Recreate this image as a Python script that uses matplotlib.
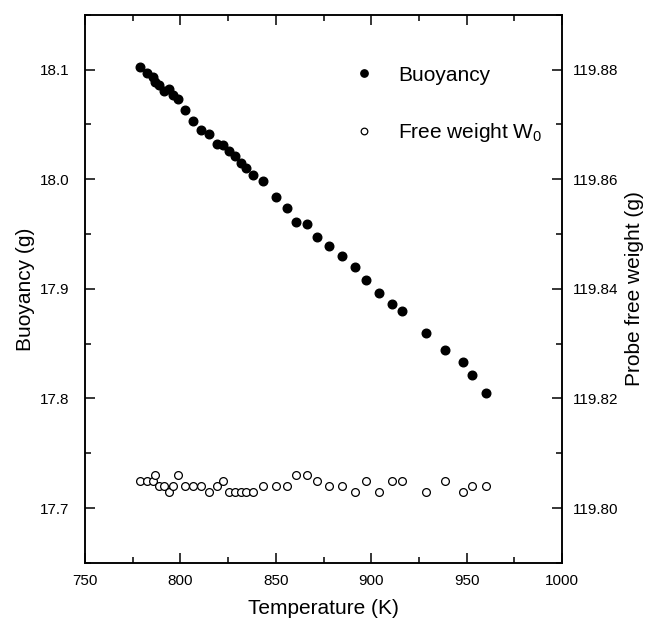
import numpy as np
import matplotlib
matplotlib.use('Agg')
import matplotlib.pyplot as plt
from matplotlib.ticker import MultipleLocator

plt.rcParams['font.family'] = ['Liberation Sans', 'DejaVu Sans']
plt.rcParams['mathtext.fontset'] = 'custom'
plt.rcParams['mathtext.rm'] = 'Liberation Sans'

# temperature of each measurement (K)
temperature = [778.6, 782.3, 785.6, 786.7, 788.9, 791.2, 793.8, 796.1, 798.6, 802.6,
               806.8, 810.8, 815.0, 819.0, 822.2, 825.5, 828.5, 831.6, 834.5, 837.9,
               843.4, 850.1, 856.0, 860.4, 866.6, 871.6, 877.9, 884.9, 891.4, 897.4,
               904.3, 910.7, 916.3, 928.5, 938.5, 948.0, 952.7, 960.2]

# buoyancy (g), left axis
buoyancy = [18.102, 18.097, 18.093, 18.089, 18.086, 18.080, 18.082, 18.077, 18.073, 18.063,
            18.053, 18.045, 18.041, 18.032, 18.031, 18.026, 18.021, 18.015, 18.010, 18.004,
            17.998, 17.984, 17.974, 17.961, 17.959, 17.947, 17.939, 17.930, 17.920, 17.908,
            17.896, 17.886, 17.880, 17.860, 17.844, 17.833, 17.821, 17.805]

# probe free weight W0 (g), right axis
free_weight = [119.805, 119.805, 119.805, 119.806, 119.804, 119.804, 119.803, 119.804, 119.806, 119.804,
               119.804, 119.804, 119.803, 119.804, 119.805, 119.803, 119.803, 119.803, 119.803, 119.803,
               119.804, 119.804, 119.804, 119.806, 119.806, 119.805, 119.804, 119.804, 119.803, 119.805,
               119.803, 119.805, 119.805, 119.803, 119.805, 119.803, 119.804, 119.804]

fig = plt.figure(figsize=(6.52, 6.22), dpi=100)
ax = fig.add_axes([0.1304, 0.0949, 0.7316, 0.8815])
ax2 = ax.twinx()

l1, = ax.plot(temperature, buoyancy, 'o', color='black', markersize=6.2, label='Buoyancy')
l2, = ax2.plot(temperature, free_weight, 'o', markerfacecolor='white', markeredgecolor='black',
               markeredgewidth=0.9, markersize=5.6, label=r'Free weight W$_\mathregular{0}$')

ax.set_xlim(750, 1000)
ax.set_ylim(17.65, 18.15)
ax2.set_ylim(119.79, 119.89)

ax.xaxis.set_major_locator(MultipleLocator(50))
ax.xaxis.set_minor_locator(MultipleLocator(25))
ax.yaxis.set_major_locator(MultipleLocator(0.1))
ax.yaxis.set_minor_locator(MultipleLocator(0.05))
ax.yaxis.set_major_formatter(plt.FormatStrFormatter('%.1f'))
ax2.yaxis.set_major_locator(MultipleLocator(0.02))
ax2.yaxis.set_minor_locator(MultipleLocator(0.01))
ax2.yaxis.set_major_formatter(plt.FormatStrFormatter('%.2f'))

for a in (ax, ax2):
    for s in a.spines.values():
        s.set_linewidth(1.1)
ax.tick_params(axis='x', which='both', direction='in', top=True, labelsize=11, width=1.1, pad=8)
ax.tick_params(axis='y', which='both', direction='in', right=False, labelsize=11, width=1.1, pad=11)
ax2.tick_params(axis='y', which='both', direction='in', labelsize=11, width=1.1, pad=7.5)
for a in (ax, ax2):
    a.tick_params(which='major', length=7.5)
    a.tick_params(which='minor', length=4)

ax.set_xlabel('Temperature (K)', fontsize=15, labelpad=8)
ax.set_ylabel('Buoyancy (g)', fontsize=15, labelpad=4)
ax2.set_ylabel('Probe free weight (g)', fontsize=15, labelpad=5)

ax.legend(handles=[l1, l2], loc='upper left', bbox_to_anchor=(0.501, 0.941), frameon=False,
          fontsize=15, labelspacing=1.73, handletextpad=0.65, markerscale=0.85)

fig.savefig('out.png', dpi=100)
